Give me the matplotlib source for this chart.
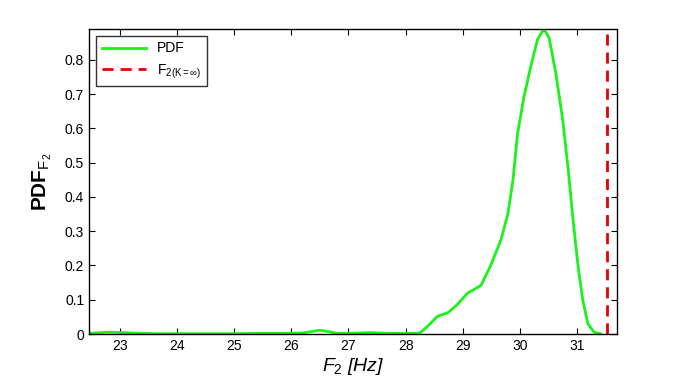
import matplotlib
matplotlib.use("Agg")
import matplotlib.pyplot as plt

plt.rcParams['font.family'] = ['Liberation Sans', 'DejaVu Sans']
plt.rcParams['mathtext.fontset'] = 'custom'
plt.rcParams['mathtext.rm'] = 'Liberation Sans'
plt.rcParams['mathtext.it'] = 'Liberation Sans:italic'

freq = [22.46, 22.6, 22.75, 22.9, 23.05, 23.2, 23.4, 23.6, 24.0, 24.5, 25.0, 25.5,
        25.9, 26.2, 26.35, 26.5, 26.65, 26.8, 27.0, 27.2, 27.35, 27.5, 27.7, 28.0,
        28.2, 28.26, 28.4, 28.56, 28.74, 28.9, 29.09, 29.2, 29.32, 29.49, 29.67,
        29.79, 29.88, 29.96, 30.07, 30.19, 30.31, 30.42, 30.51, 30.63, 30.75,
        30.84, 30.93, 31.02, 31.1, 31.19, 31.3, 31.42]
pdf = [0.002, 0.003, 0.005, 0.005, 0.004, 0.003, 0.002, 0.001, 0.001, 0.001, 0.001, 0.002,
       0.002, 0.003, 0.007, 0.011, 0.007, 0.002, 0.002, 0.003, 0.004, 0.003, 0.002, 0.002,
       0.002, 0.004, 0.025, 0.052, 0.062, 0.085, 0.12, 0.13, 0.142, 0.2, 0.275,
       0.35, 0.45, 0.585, 0.69, 0.78, 0.86, 0.89, 0.865, 0.76, 0.625,
       0.49, 0.335, 0.195, 0.1, 0.03, 0.005, 0.0]
f_inf = 31.53

fig = plt.figure(figsize=(6.83, 3.84), dpi=100)
ax = fig.add_axes([89/683, 50/384, 528/683, 305/384])
ax.plot(freq, pdf, color=(0.1, 0.95, 0.1), lw=2, label='PDF')
ax.axvline(f_inf, color=(0.9, 0.0, 0.0), lw=2, ls=(0, (4, 2.5)),
           label=r'F$_{\mathrm{2(K=\infty)}}$')

ax.set_xlim(22.46, 31.70)
ax.set_ylim(0, 0.89)
ax.set_xticks(range(23, 32))
ax.set_yticks([0, 0.1, 0.2, 0.3, 0.4, 0.5, 0.6, 0.7, 0.8])
ax.set_yticklabels(['0', '0.1', '0.2', '0.3', '0.4', '0.5', '0.6', '0.7', '0.8'])
ax.tick_params(direction='in', top=True, right=True, labelsize=10, length=4)
for s in ax.spines.values():
    s.set_linewidth(1)

ax.set_xlabel(r'$F_2$ [Hz]', fontsize=14, style='italic', labelpad=2)
ax.set_ylabel(r'PDF$_{\mathrm{F_2}}$', fontsize=15, fontweight='bold', labelpad=8)

leg = ax.legend(loc='upper left', fontsize=10, frameon=True, fancybox=False,
                edgecolor='black', borderaxespad=0.5, handlelength=3.2)
leg.get_frame().set_linewidth(1)

fig.savefig('out.png', dpi=100, facecolor='white')
